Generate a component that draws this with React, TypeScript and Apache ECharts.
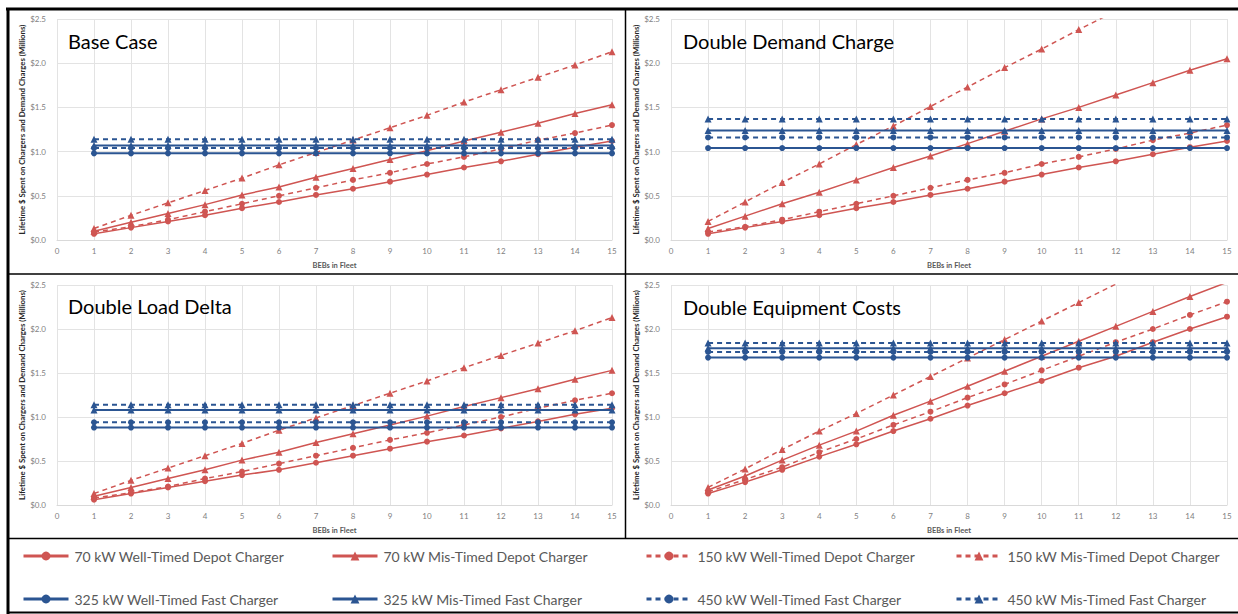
import React, { useEffect, useRef } from "react";
import * as echarts from "echarts";

// Fleet sizes on the horizontal axis
const fleetSizes = [1, 2, 3, 4, 5, 6, 7, 8, 9, 10, 11, 12, 13, 14, 15];
const yTicks = [0, 0.5, 1.0, 1.5, 2.0, 2.5];

const RED = "#CF5552";
const BLUE = "#2B5592";

const seriesNames = [
  "70 kW Well-Timed Depot Charger",
  "70 kW Mis-Timed Depot Charger",
  "150 kW Well-Timed Depot Charger",
  "150 kW Mis-Timed Depot Charger",
  "325 kW Well-Timed Fast Charger",
  "325 kW Mis-Timed Fast Charger",
  "450 kW Well-Timed Fast Charger",
  "450 kW Mis-Timed Fast Charger",
];

// Base Case (millions of dollars)
const base70Well = [0.07, 0.14, 0.21, 0.28, 0.36, 0.43, 0.51, 0.58, 0.66, 0.74, 0.82, 0.89, 0.97, 1.05, 1.12];
const base70Mis = [0.1, 0.2, 0.3, 0.4, 0.51, 0.6, 0.71, 0.81, 0.91, 1.01, 1.12, 1.22, 1.32, 1.43, 1.53];
const base150Well = [0.09, 0.15, 0.23, 0.32, 0.41, 0.5, 0.59, 0.68, 0.76, 0.86, 0.94, 1.03, 1.13, 1.21, 1.3];
const base150Mis = [0.13, 0.28, 0.42, 0.56, 0.7, 0.85, 0.99, 1.13, 1.27, 1.41, 1.56, 1.7, 1.84, 1.98, 2.13];
const baseFast = [0.98, 1.07, 1.04, 1.14]; // 325 well, 325 mis, 450 well, 450 mis

// Double Demand Charge
const dd70Well = [0.07, 0.14, 0.21, 0.28, 0.36, 0.43, 0.51, 0.58, 0.66, 0.74, 0.82, 0.89, 0.97, 1.05, 1.12];
const dd70Mis = [0.13, 0.27, 0.41, 0.54, 0.68, 0.82, 0.95, 1.09, 1.23, 1.37, 1.5, 1.64, 1.78, 1.92, 2.05];
const dd150Well = [0.09, 0.15, 0.23, 0.32, 0.41, 0.5, 0.59, 0.68, 0.76, 0.86, 0.94, 1.03, 1.13, 1.21, 1.3];
const dd150Mis = [0.21, 0.43, 0.65, 0.86, 1.08, 1.29, 1.51, 1.73, 1.95, 2.16, 2.38, 2.59, 2.8, 3.02, 3.23];
const ddFast = [1.04, 1.24, 1.16, 1.37];

// Double Load Delta
const dl70Well = [0.06, 0.13, 0.2, 0.27, 0.34, 0.4, 0.48, 0.56, 0.64, 0.72, 0.79, 0.87, 0.95, 1.03, 1.1];
const dl70Mis = [0.1, 0.2, 0.3, 0.4, 0.51, 0.6, 0.71, 0.81, 0.91, 1.01, 1.12, 1.22, 1.32, 1.43, 1.53];
const dl150Well = [0.08, 0.14, 0.21, 0.3, 0.38, 0.47, 0.56, 0.65, 0.74, 0.82, 0.91, 1.0, 1.1, 1.19, 1.27];
const dl150Mis = [0.13, 0.28, 0.42, 0.56, 0.7, 0.85, 0.99, 1.13, 1.27, 1.41, 1.56, 1.7, 1.84, 1.98, 2.13];
const dlFast = [0.88, 1.08, 0.94, 1.14];

// Double Equipment Costs
const de70Well = [0.13, 0.26, 0.4, 0.55, 0.69, 0.84, 0.98, 1.13, 1.27, 1.41, 1.56, 1.69, 1.85, 2.0, 2.14];
const de70Mis = [0.17, 0.33, 0.51, 0.68, 0.84, 1.02, 1.18, 1.35, 1.52, 1.69, 1.86, 2.03, 2.2, 2.37, 2.53];
const de150Well = [0.15, 0.29, 0.43, 0.6, 0.75, 0.91, 1.06, 1.22, 1.37, 1.53, 1.69, 1.85, 2.0, 2.16, 2.31];
const de150Mis = [0.2, 0.41, 0.63, 0.84, 1.04, 1.25, 1.46, 1.67, 1.88, 2.09, 2.3, 2.51, 2.72, 2.93, 3.14];
const deFast = [1.675, 1.78, 1.74, 1.84];

const panelTitles = ["Base Case", "Double Demand Charge", "Double Load Delta", "Double Equipment Costs"];

const panels = [
  { title: panelTitles[0], depot: [base70Well, base70Mis, base150Well, base150Mis], fast: baseFast },
  { title: panelTitles[1], depot: [dd70Well, dd70Mis, dd150Well, dd150Mis], fast: ddFast },
  { title: panelTitles[2], depot: [dl70Well, dl70Mis, dl150Well, dl150Mis], fast: dlFast },
  { title: panelTitles[3], depot: [de70Well, de70Mis, de150Well, de150Mis], fast: deFast },
];

const layout = [
  { left: 57, top: 19, width: 555, height: 221, titleLeft: 68, titleTop: 31 },
  { left: 671, top: 19, width: 556, height: 221, titleLeft: 683, titleTop: 31 },
  { left: 57, top: 285, width: 555, height: 220, titleLeft: 68, titleTop: 296 },
  { left: 671, top: 285, width: 556, height: 220, titleLeft: 683, titleTop: 297 },
];

const styleFor = (i: number) => ({
  color: i < 4 ? RED : BLUE,
  dashed: i === 2 || i === 3 || i === 6 || i === 7,
  symbol: i % 2 === 0 ? "circle" : "triangle",
});

const FONT = "Lato, 'Open Sans', sans-serif";

export default function App() {
  const ref = useRef<HTMLDivElement>(null);

  useEffect(() => {
    if (!ref.current) return;
    const chart = echarts.init(ref.current, undefined, { renderer: "svg" });

    const grids: any[] = [];
    const xAxes: any[] = [];
    const yAxes: any[] = [];
    const titles: any[] = [];
    const series: any[] = [];

    panels.forEach((p, pi) => {
      const L = layout[pi];
      grids.push({ left: L.left, top: L.top, width: L.width, height: L.height, containLabel: false });
      titles.push({
        text: p.title,
        left: L.titleLeft,
        top: L.titleTop,
        padding: 0,
        textStyle: { fontFamily: FONT, fontSize: 20, fontWeight: "normal", color: "#000" },
      });
      xAxes.push({
        type: "value",
        gridIndex: pi,
        min: 0,
        max: 15,
        interval: 1,
        name: "BEBs in Fleet",
        nameLocation: "middle",
        nameGap: 21,
        nameTextStyle: { fontFamily: FONT, fontSize: 7.5, fontWeight: "bold", color: "#595959" },
        axisLine: { show: true, lineStyle: { color: "#D9D9D9", width: 1 } },
        axisTick: { show: false },
        axisLabel: { fontFamily: FONT, fontSize: 8, color: "#7F7F7F", margin: 7 },
        splitLine: { show: true, lineStyle: { color: "#E3E3E3", width: 1 } },
      });
      yAxes.push({
        type: "value",
        gridIndex: pi,
        min: 0,
        max: 2.5,
        interval: 0.5,
        name: "Lifetime $ Spent on Chargers and Demand Charges (Millions)",
        nameLocation: "middle",
        nameRotate: 90,
        nameGap: 31,
        nameTextStyle: { fontFamily: FONT, fontSize: 7.8, fontWeight: "bold", color: "#262626" },
        axisLine: { show: false },
        axisTick: { show: false },
        axisLabel: {
          fontFamily: FONT,
          fontSize: 8,
          color: "#7F7F7F",
          margin: 11,
          formatter: (v: number) => (yTicks.includes(v) ? "$" + v.toFixed(1) : ""),
        },
        splitLine: { show: true, lineStyle: { color: "#E3E3E3", width: 1 } },
      });

      const all = [...p.depot, ...p.fast.map((v) => fleetSizes.map(() => v))];
      all.forEach((vals, si) => {
        const s = styleFor(si);
        series.push({
          name: seriesNames[si],
          type: "line",
          xAxisIndex: pi,
          yAxisIndex: pi,
          data: fleetSizes.map((x, k) => [x, vals[k]]),
          symbol: s.symbol,
          symbolSize: s.symbol === "circle" ? 6 : 7,
          showSymbol: true,
          clip: true,
          z: si < 4 ? 2 : 3,
          itemStyle: { color: s.color },
          lineStyle: { color: s.color, width: si < 4 ? 1.5 : 2, type: s.dashed ? [5, 4] : "solid" },
        });
      });
    });

    // One legend per entry so the two rows line up in four columns
    const legendLefts = [22, 331, 645, 955];
    const legends = seriesNames.map((name, i) => ({
      data: [name],
      left: legendLefts[i % 4],
      top: i < 4 ? 549 : 592,
      orient: "horizontal",
      itemWidth: 45,
      itemHeight: 11,
      itemGap: 0,
      padding: 0,
      selectedMode: false,
      lineStyle: { width: 3 },
      textStyle: { fontFamily: FONT, fontSize: 14, color: "#595959", padding: [0, 0, 0, 1] },
    }));

    const frame = (shape: any, lineWidth: number) => ({
      type: "line",
      shape,
      silent: true,
      style: { stroke: "#000", lineWidth },
      z: 10,
    });

    chart.setOption({
      animation: false,
      backgroundColor: "#fff",
      title: titles,
      grid: grids,
      xAxis: xAxes,
      yAxis: yAxes,
      legend: legends,
      series,
      graphic: [
        frame({ x1: 6, y1: 9, x2: 1238, y2: 9 }, 3),
        frame({ x1: 8, y1: 8, x2: 8, y2: 614 }, 3),
        frame({ x1: 8, y1: 274, x2: 1238, y2: 274 }, 1.5),
        frame({ x1: 625.5, y1: 9, x2: 625.5, y2: 538 }, 1.5),
        frame({ x1: 8, y1: 538.5, x2: 1238, y2: 538.5 }, 1.5),
        frame({ x1: 8, y1: 612.5, x2: 1238, y2: 612.5 }, 2),
      ],
    });

    return () => chart.dispose();
  }, []);

  return (
    <div
      ref={ref}
      style={{ position: "absolute", left: 0, top: 0, width: 1238, height: 614, background: "#fff" }}
    />
  );
}
